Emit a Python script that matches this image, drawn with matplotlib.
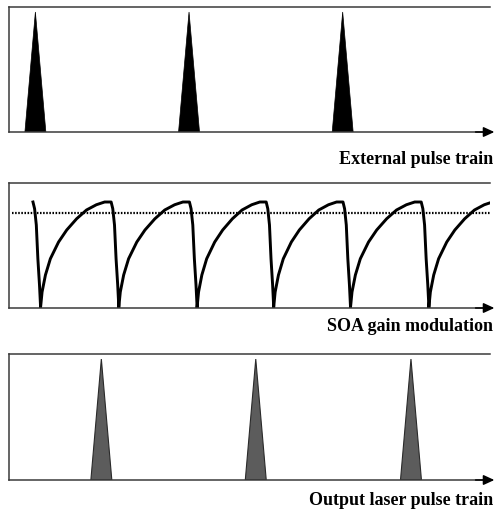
import matplotlib
matplotlib.use("Agg")
import matplotlib.pyplot as plt
import numpy as np

# time axis in units of the gain-modulation period
ext_pulse_t = [0.34, 2.32, 4.30]
out_pulse_t = [1.19, 3.18, 5.18]
pulse_width = 0.27
pulse_height = 0.96

# times where the gain hits its minimum and starts recovering
gain_drops = [0.406, 1.414, 2.423, 3.41, 4.40, 5.41]
# one cycle of the gain: phase (fraction of cycle) vs gain
cycle_phase = [0.0, 0.020, 0.063, 0.126, 0.231, 0.335, 0.462, 0.588, 0.714,
               0.820, 0.903, 0.924, 0.946, 0.966, 0.987, 1.0]
cycle_gain = [0.0, 0.128, 0.264, 0.394, 0.528, 0.624, 0.714, 0.784, 0.826,
              0.848, 0.848, 0.794, 0.664, 0.394, 0.184, 0.02]
gain_start = 0.30
threshold = 0.76
threshold_start = 0.04

labels = ["External pulse train", "SOA gain modulation", "Output laser pulse train"]

W, H = 495, 512
fig = plt.figure(figsize=(W / 100, H / 100), dpi=100)
plt.rcParams['font.family'] = ['Liberation Serif', 'DejaVu Serif']

left = 9 / W
width = 481 / W
xmax = 481 / 77.6
panels = [(7, 132), (183, 308), (354, 480)]
axes = []
for top, bot in panels:
    ax = fig.add_axes([left, 1 - bot / H, width, (bot - top) / H])
    ax.set_xlim(0, xmax)
    ax.set_ylim(0, 1)
    ax.set_xticks([])
    ax.set_yticks([])
    ax.spines['right'].set_visible(False)
    for s in ['left', 'top', 'bottom']:
        ax.spines[s].set_color('#3a3a3a')
        ax.spines[s].set_linewidth(1.1)
    ax.annotate('', xy=(1.009, 0), xytext=(0.97, 0), xycoords='axes fraction',
                arrowprops=dict(arrowstyle='-|>,head_length=0.65,head_width=0.3',
                                color='black', lw=1.1, shrinkA=0, shrinkB=0),
                annotation_clip=False)
    axes.append(ax)

# external pulses
for c in ext_pulse_t:
    axes[0].fill([c - pulse_width / 2, c, c + pulse_width / 2], [0, pulse_height, 0],
                 color='black', lw=0.5)

# output pulses
for c in out_pulse_t:
    axes[2].fill([c - pulse_width / 2, c, c + pulse_width / 2], [0, pulse_height, 0],
                 facecolor='#5c5c5c', edgecolor='#2a2a2a', lw=0.8)

# gain modulation
period = np.mean(np.diff(gain_drops))
starts = [gain_drops[0] - period] + gain_drops
t_all, g_all = [], []
for i, d in enumerate(starts):
    p = starts[i + 1] - d if i + 1 < len(starts) else period
    t = d + np.array(cycle_phase) * p
    g = np.array(cycle_gain)
    keep = t >= gain_start
    t_all.extend(t[keep])
    g_all.extend(g[keep])
axes[1].plot(t_all, g_all, color='black', lw=2.1, solid_joinstyle='round')
axes[1].plot([threshold_start, xmax], [threshold, threshold], color='black',
             lw=1.6, linestyle=(0, (0.7, 0.7)))

for (top, bot), lab, base in zip(panels, labels, [164, 331, 505]):
    fig.text(493 / W, 1 - base / H, lab, ha='right', va='baseline',
             fontsize=13, fontweight='bold')

fig.savefig("out.png", dpi=100)
